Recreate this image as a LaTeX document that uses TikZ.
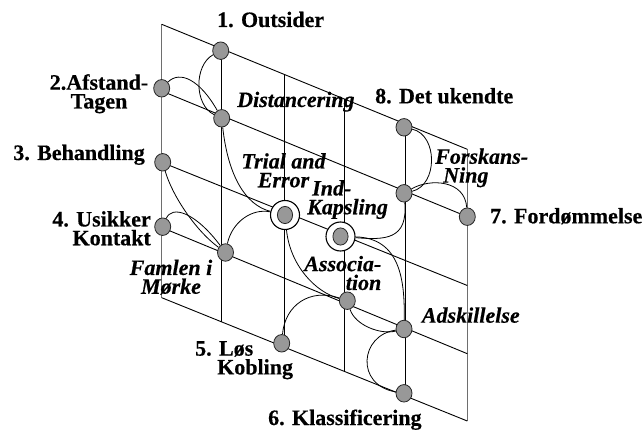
\documentclass[tikz,border=0pt]{standalone}
\usepackage{fontspec}
\setmainfont{Liberation Serif}[BoldFeatures={FakeBold=0.4},BoldItalicFeatures={FakeBold=0.4}]
\usetikzlibrary{shapes.geometric}
\definecolor{dotgray}{RGB}{152,152,152}
\definecolor{edgegray}{RGB}{110,110,110}
\begin{document}
\begin{tikzpicture}[x=1pt,y=-1pt,
  gridline/.style={line width=0.9pt, black},
  edgeline/.style={line width=1pt, edgegray},
  curve/.style={line width=0.8pt, black},
  dot/.style={ellipse, draw=black!85, line width=0.8pt, fill=dotgray,
    minimum width=16pt, minimum height=17.5pt, inner sep=0pt},
  ring/.style={circle, draw=black, line width=1.1pt, fill=white,
    minimum size=29pt, inner sep=0pt,
    path picture={\filldraw[fill=dotgray, draw=black!85, line width=0.8pt]
      (path picture bounding box.center) ellipse (7.6pt and 8.6pt);}},
  lab/.style={font=\fontsize{22}{18.8}\selectfont\bfseries, inner sep=0pt},
  ilab/.style={font=\fontsize{22}{18.8}\selectfont\bfseries\itshape, inner sep=0pt}
]
\path[use as bounding box, fill=white] (0,0) rectangle (644,430);

% grid corner and edge coordinates
\coordinate (r0a) at (161.7,24.3);  \coordinate (r0b) at (467.3,149.3);
\coordinate (r1a) at (161.7,91);    \coordinate (r1b) at (467.3,216.7);
\coordinate (r2a) at (161.7,162.3); \coordinate (r2b) at (467.3,285.5);
\coordinate (r3a) at (161.7,227.5); \coordinate (r3b) at (467.3,353.7);
\coordinate (r4a) at (161.7,297.7); \coordinate (r4b) at (467.3,421);
\coordinate (c1a) at (221.7,48.8);  \coordinate (c1b) at (221.7,321.9);
\coordinate (c2a) at (284,74.3);    \coordinate (c2b) at (284,347);
\coordinate (c3a) at (344,98.9);    \coordinate (c3b) at (344,371.3);
\coordinate (c4a) at (405,124);     \coordinate (c4b) at (405,396);

% grid
\draw[edgeline] (r0a) -- (r4a);
\draw[edgeline] (r0b) -- (r4b);
\draw[gridline] (r0a) -- (r0b);
\draw[gridline] (r1a) -- (r1b);
\draw[gridline] (r2a) -- (r2b);
\draw[gridline] (r3a) -- (r3b);
\draw[gridline] (r4a) -- (r4b);
\draw[gridline] (c1a) -- (c1b);
\draw[gridline] (c2a) -- (c2b);
\draw[gridline] (c3a) -- (c3b);
\draw[gridline] (c4a) -- (c4b);

% nodes
\node[dot] (n1) at (220.7,50.7) {};
\node[dot] (n2) at (161.7,88.3) {};
\node[dot] (n3) at (162.7,162.3) {};
\node[dot] (n4) at (162.7,226.7) {};
\node[dot] (nd) at (221.7,118.3) {};
\node[dot] (nf) at (225.5,252.5) {};
\node[ring] (nt) at (285,215) {};
\node[ring] (nk) at (340.5,236.5) {};
\node[dot] (na) at (347.3,300.7) {};
\node[dot] (n5) at (281.7,343.3) {};
\node[dot] (nad) at (404,329) {};
\node[dot] (n6) at (404,393.3) {};
\node[dot] (n8) at (404,127.3) {};
\node[dot] (nfo) at (404,193.3) {};
\node[dot] (n7) at (467.3,216.7) {};

% curves
\draw[curve] (n1) .. controls (194,65) and (194,105) .. (nd);
\draw[curve] (n2) .. controls (180,70) and (200,80) .. (nd);
\draw[curve] (nd) .. controls (228,175) and (245,205) .. (nt);
\draw[curve] (n3) .. controls (172,195) and (195,230) .. (nf);
\draw[curve] (n4) .. controls (172,205) and (195,212) .. (nf);
\draw[curve] (nf) .. controls (232,222) and (252,208) .. (nt);
\draw[curve] (nt) .. controls (290,265) and (315,292) .. (na);
\draw[curve] (na) .. controls (310,288) and (285,305) .. (n5);
\draw[curve] (na) .. controls (355,325) and (380,335) .. (nad);
\draw[curve] (nad) .. controls (360,335) and (355,385) .. (n6);
\draw[curve] (nk) .. controls (400,238) and (405,280) .. (nad);
\draw[curve] (nfo) .. controls (408,240) and (385,240) .. (nk);
\draw[curve] (n8) .. controls (438,135) and (438,185) .. (nfo);
\draw[curve] (nfo) .. controls (430,178) and (465,180) .. (n7);

% labels
\node[lab, anchor=base west] (l1) at (217,27) {1. Outsider};
\node[lab, align=center, anchor=north] (l2) at (99,74) {2.Afstand-\\Tagen};
\node[lab, anchor=base east] (l3) at (145,160) {3. Behandling};
\node[lab, align=right, anchor=north east] (l4) at (151,211) {4. Usikker\\Kontakt};
\node[ilab, anchor=base west] (ldist) at (237,107) {Distancering};
\node[ilab, align=center, anchor=north] (ltrial) at (283.5,153) {Trial and\\Error};
\node[ilab, align=left, anchor=north west] (lkap) at (307,180) {\hspace*{5pt}Ind-\\Kapsling};
\node[lab, anchor=base west] (l8) at (375,103.3) {8. Det ukendte};
\node[ilab, align=left, anchor=north west] (lfors) at (435,148.3) {Forskans-\\\hspace*{8pt}Ning};
\node[lab, anchor=base west] (l7) at (490,223.3) {7. Fordømmelse};
\node[ilab, align=right, anchor=north east] (lassoc) at (381.5,255.7) {Associa-\\tion};
\node[ilab, align=center, anchor=north] (lfam) at (171,259.5) {Famlen i\\Mørke};
\node[ilab, anchor=base west] (ladsk) at (421.7,322.7) {Adskillelse};
\node[lab, align=left, anchor=north west] (l5) at (195,341) {5. Løs\\\hspace*{22pt}Kobling};
\node[lab, anchor=base west] (l6) at (268,425) {6. Klassificering};
\end{tikzpicture}
\end{document}
